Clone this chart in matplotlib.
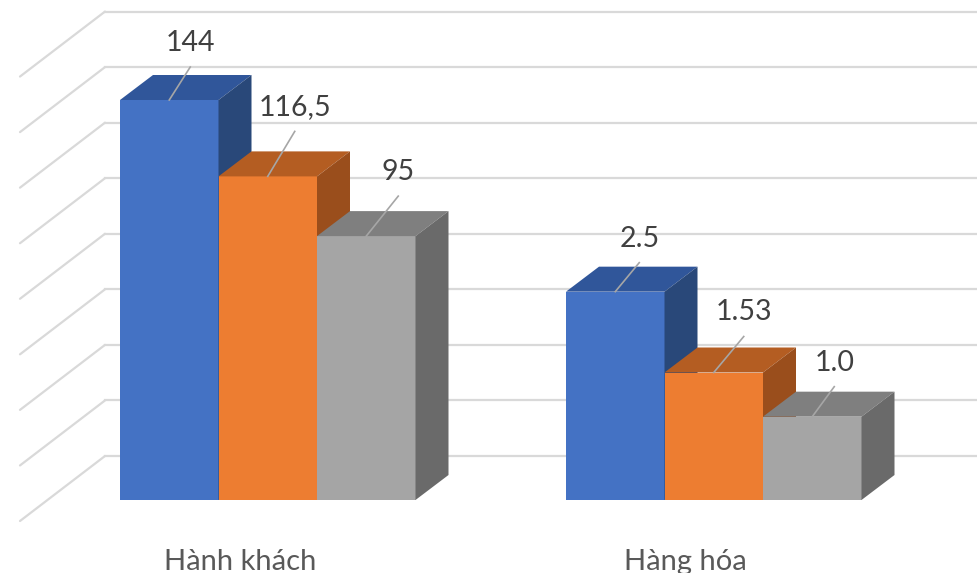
import numpy as np
import matplotlib.pyplot as plt
from matplotlib.patches import Polygon

# data
categories = ['Hành khách', 'Hàng hóa']
series_1 = [144, 2.5]
series_2 = [116.5, 1.53]
series_3 = [95, 1.0]
labels_1 = ['144', '2.5']
labels_2 = ['116,5', '1.53']
labels_3 = ['95', '1.0']
# Hàng hóa bars are drawn on a stretched scale in the original
group_scale = [1, 30]
grid_values = np.arange(0, 161, 20)

# layout (pixels), y axis in value units
W, H = 978, 573
k = 400 / 144            # pixels per value unit
base_px = 500            # pixel row of value 0 at bar front
group_left = [120, 566]
bar_w = 98.5
depth_dx = 33
depth_dy = 25 / k
wall_dy = 44 / k
wall_left = 105
side_dx = -85
side_dy = -65 / k

fronts = ['#4472C4', '#ED7D31', '#A5A5A5']
tops = ['#30569A', '#B45D22', '#7F7F7F']
sides = ['#294879', '#9A4E1C', '#6A6A6A']
# label leader offsets (px): dx, lift
leader = [[(21, 33), (27, 45), (32, 40)],
          [(24, 29), (30, 36), (22, 30)]]

fig = plt.figure(figsize=(W / 100, H / 100), dpi=100)
ax = fig.add_axes([0, 0, 1, 1])
ax.set_xlim(0, W)
ax.set_ylim((base_px - H) / k, base_px / k)
ax.axis('off')

# back and side wall gridlines
for v in grid_values:
    yb = v + wall_dy
    ax.plot([wall_left, W], [yb, yb], color='#d9d9d9', lw=1.6, zorder=1)
    ax.plot([wall_left, wall_left + side_dx], [yb, yb + side_dy],
            color='#d9d9d9', lw=1.6, zorder=1, solid_capstyle='round')

series = [series_1, series_2, series_3]
labels = [labels_1, labels_2, labels_3]
for g, cat in enumerate(categories):
    for s in range(3):
        v = series[s][g] * group_scale[g]
        x0 = group_left[g] + s * bar_w
        x1 = x0 + bar_w
        z = 2 + s
        ax.add_patch(Polygon([(x0, 0), (x1, 0), (x1, v), (x0, v)],
                             closed=True, fc=fronts[s], ec='none', zorder=z))
        ax.add_patch(Polygon([(x0, v), (x1, v), (x1 + depth_dx, v + depth_dy),
                              (x0 + depth_dx, v + depth_dy)],
                             closed=True, fc=tops[s], ec='none', zorder=z))
        ax.add_patch(Polygon([(x1, 0), (x1 + depth_dx, depth_dy),
                              (x1 + depth_dx, v + depth_dy), (x1, v)],
                             closed=True, fc=sides[s], ec='none', zorder=z))
        # data label with leader line
        cx = (x0 + x1) / 2
        ldx, lift = leader[g][s]
        ax.plot([cx, cx + ldx], [v, v + lift / k], color='#a6a6a6', lw=1.2, zorder=10)
        ax.text(cx + ldx, v + (lift + 24) / k, labels[s][g], ha='center', va='center',
                fontsize=20.5, color='#404040', family='Lato', zorder=11)
    # category label at floor front edge
    cx = group_left[g] + 1.5 * bar_w - 28
    ax.text(cx, -70 / k, cat, ha='center', va='baseline', fontsize=21,
            color='#595959', family='Lato')

fig.savefig('out.png', dpi=100)
